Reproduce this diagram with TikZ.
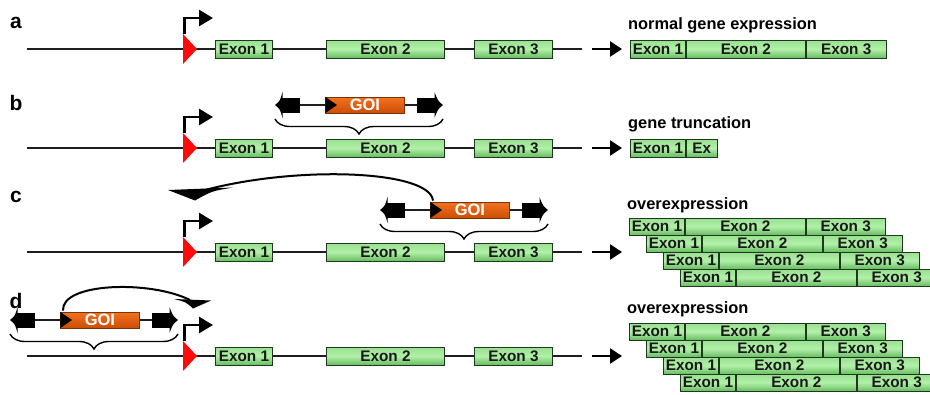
\documentclass[tikz,border=0pt]{standalone}
\usepackage{fontspec}
\setmainfont{Liberation Sans}
\usetikzlibrary{arrows.meta,decorations.pathreplacing,calc}
\definecolor{exlt}{HTML}{B2F0A8}
\definecolor{exmid}{HTML}{98E08F}
\definecolor{exdk}{HTML}{68BC63}
\definecolor{exbd}{HTML}{1E381E}
\definecolor{goitop}{HTML}{F2721E}
\definecolor{goibot}{HTML}{CC4E06}
\definecolor{goibd}{HTML}{7A3206}
\definecolor{promred}{HTML}{FF0A0A}
\definecolor{dnacol}{HTML}{1E1E1E}
\newcommand\exfont{\fontsize{15.3pt}{15.3pt}\selectfont\bfseries}
\newcommand\capfont{\fontsize{16.4pt}{16.4pt}\selectfont\bfseries}
\newcommand\lblfont{\fontsize{21pt}{21pt}\selectfont\bfseries}
\newcommand\goifont{\fontsize{16.5pt}{16.5pt}\selectfont\bfseries\color{white}}
\tikzset{
  exon/.style={draw=exbd, line width=0.9pt, top color=exmid, bottom color=exdk, middle color=exlt,
    inner sep=0pt, minimum height=18pt, anchor=west, font=\exfont, text=black!90},
  pexon/.style={exon, minimum height=17pt},
  dna/.style={line width=1.5pt, draw=dnacol},
  thinline/.style={line width=1.1pt, draw=dnacol},
  promarrow/.style={line width=2.6pt, -{Triangle[length=14pt,width=16pt]}},
  txarrow/.style={line width=2.6pt, -{Triangle[length=12pt,width=15pt]}},
  blk/.style={fill=black, inner sep=0pt, minimum height=15pt},
  goi/.style={draw=goibd, line width=0.8pt, top color=goitop, bottom color=goibot,
    inner sep=0pt, minimum width=79pt, minimum height=16pt, font=\goifont},
  bracestyle/.style={line width=1.4pt, decorate, decoration={brace, amplitude=15pt, mirror}},
  curvearrow/.style={line width=2pt},
  lbl/.style={font=\lblfont, inner sep=0pt},
  captext/.style={font=\capfont, inner sep=0pt, anchor=west},
}
\newcommand\gene[2]{%
  \coordinate (#1s) at (27,#2);
  \coordinate (#1p) at (183,#2);
  \node[exon, minimum width=57pt] (#1xa) at (215,#2) {Exon 1};
  \node[exon, minimum width=118pt] (#1xb) at (326,#2) {Exon 2};
  \node[exon, minimum width=78pt] (#1xc) at (474,#2) {Exon 3};
  \coordinate (#1e) at (582,#2);
  \draw[dna] (#1s) -- (#1p) -- (#1xa.west);
  \draw[dna] (#1xa.east) -- (#1xb.west);
  \draw[dna] (#1xb.east) -- (#1xc.west);
  \draw[dna] (#1xc.east) -- (#1e);
  \fill[promred] ([shift={(0,-15)}]#1p) -- ([shift={(14,0)}]#1p) -- ([shift={(0,15)}]#1p) -- cycle;
  \draw[promarrow] ([shift={(1.3,-15)}]#1p) |- ([shift={(30,-31)}]#1p);
  \coordinate (#1ta) at (592,#2);
  \coordinate (#1tb) at (622,#2);
  \draw[txarrow] (#1ta) -- (#1tb);
}
\newcommand\cassette[3]{%
  \begin{scope}[shift={(#2,#3)}]
    \node[blk, minimum width=18pt] (#1l) at (16,0) {};
    \node[goi, anchor=west] (#1g) at (50,0) {GOI};
    \node[blk, minimum width=18pt] (#1r) at (151,0) {};
    \draw[thinline] (#1l.east) -- (#1g.west);
    \draw[thinline] (#1g.east) -- (#1r.west);
    \fill (7.5,-13) .. controls (5,-4) .. (0,0) .. controls (5,4) .. (7.5,13) -- cycle;
    \fill (159.5,-13) .. controls (163,-4) .. (168,0) .. controls (163,4) .. (159.5,13) -- cycle;
    \fill ([shift={(0.4,-8)}]#1g.west) -- ([shift={(12,0)}]#1g.west) -- ([shift={(0.4,8)}]#1g.west) -- cycle;
    \draw[bracestyle] (0,14) -- (168,14);
  \end{scope}
}
\newcommand\prodrow[3]{%
  \node[pexon, minimum width=55pt] (#1a) at (#2,#3) {Exon 1};
  \node[pexon, minimum width=120pt] (#1b) at (#1a.east) {Exon 2};
  \node[pexon, minimum width=79pt] (#1c) at (#1b.east) {Exon 3};
}
\begin{document}
\begin{tikzpicture}[x=1pt,y=-1pt]
\useasboundingbox (0,0) rectangle (930,394);
% labels
\node[lbl] (la) at (16,23) {a};
\node[lbl] (lb) at (16,103) {b};
\node[lbl] (lc) at (16,197) {c};
\node[lbl] (ld) at (16,301) {d};
% genes
\gene{A}{49}
\gene{B}{148}
\gene{C}{252}
\gene{D}{356}
% cassettes
\cassette{cb}{275}{105}
\cassette{cc}{380}{210}
\cassette{cd}{10}{320}
% curved arrows
\coordinate (ccend) at (205,190);
\draw[curvearrow] ([shift={(3,-1)}]ccg.north west) .. controls +(-3,-30) and (300,165) .. (ccend);
\fill (168,190) -- (233,187.5) .. controls (212,191) .. (195,200.5) -- cycle;
\coordinate (cdend) at (190,300);
\draw[curvearrow] ([shift={(3,-1)}]cdg.north west) .. controls +(-2,-28) and (150,280) .. (cdend);
\fill (174,299) -- (211,300.5) -- (193,308.5) .. controls (186,302) .. cycle;
% products
\node[captext] (capa) at (628,25) {normal gene expression};
\node[exon, minimum width=55pt] (pa1) at (630,49) {Exon 1};
\node[exon, minimum width=119pt] (pa2) at (pa1.east) {Exon 2};
\node[exon, minimum width=80pt] (pa3) at (pa2.east) {Exon 3};
\node[captext] (capb) at (628,124) {gene truncation};
\node[exon, minimum width=55pt] (pb1) at (630,148) {Exon 1};
\node[exon, minimum width=31pt] (pb2) at (pb1.east) {Ex};
\node[captext] (capc) at (627,205) {overexpression};
\prodrow{pca}{629}{226.5}
\prodrow{pcb}{646}{243.5}
\prodrow{pcc}{663}{260.5}
\prodrow{pcd}{680}{277.5}
\node[captext] (capd) at (627,309) {overexpression};
\prodrow{pda}{629}{331.5}
\prodrow{pdb}{646}{348.5}
\prodrow{pdc}{663}{365.5}
\prodrow{pdd}{680}{382.5}
\end{tikzpicture}
\end{document}
